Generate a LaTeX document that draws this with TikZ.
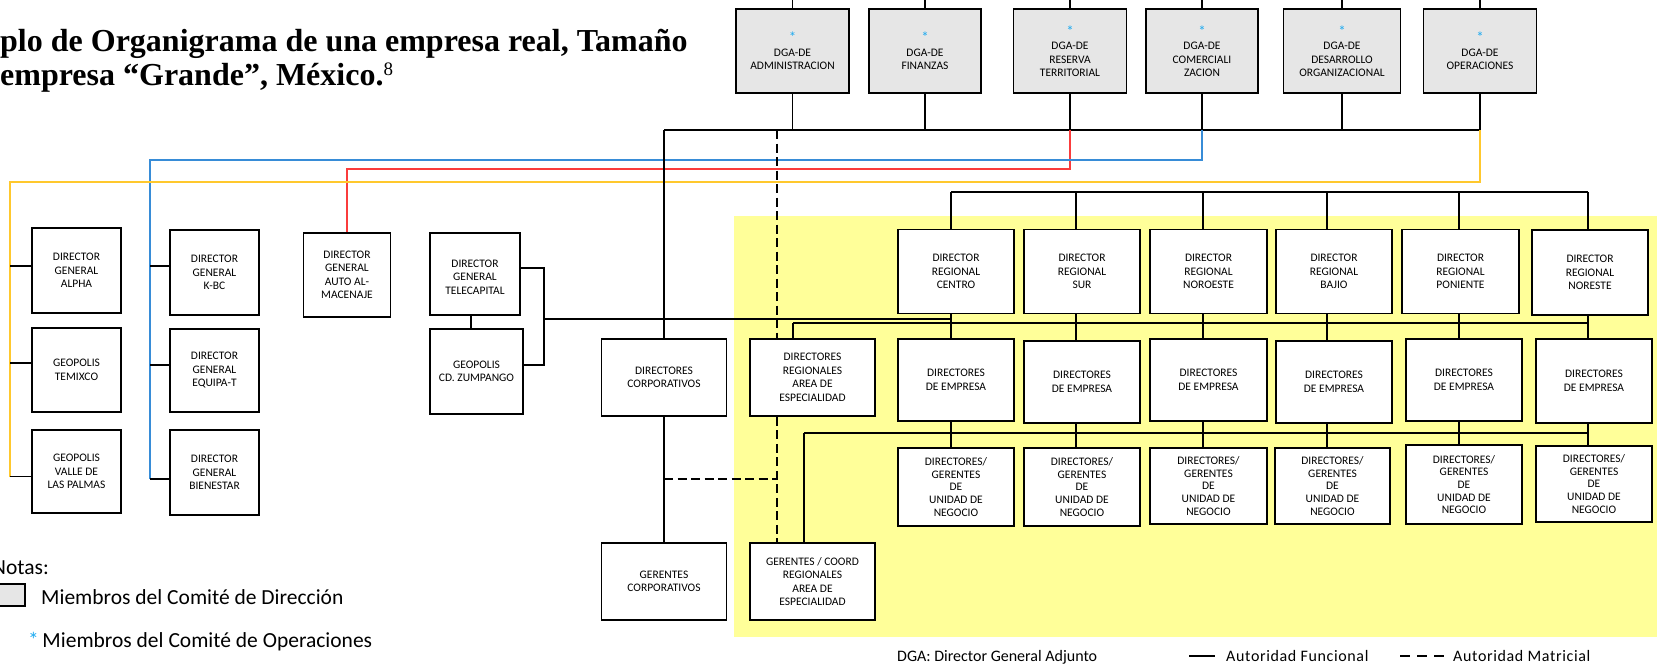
\documentclass[tikz,border=0pt]{standalone}
\usepackage{fontspec}
\setmainfont{Liberation Serif}
\newfontfamily\chartfont{Carlito}
\newfontfamily\spacedfont[LetterSpace=4]{Carlito}
\usetikzlibrary{calc}
\definecolor{zoneyellow}{RGB}{255,255,153}
\definecolor{boardgray}{RGB}{230,230,230}
\definecolor{opsblue}{RGB}{55,140,215}
\definecolor{linkred}{RGB}{250,60,60}
\definecolor{linkgold}{RGB}{255,200,45}
\definecolor{starblue}{RGB}{30,170,240}
\newcommand\opstar{{\color{starblue}\fontsize{15}{13.5}\selectfont *}}
\begin{document}
\begin{tikzpicture}[x=1pt,y=-1pt,
  unit/.style={draw=black, line width=1.6pt, fill=white, inner sep=0pt, align=center,
    font=\chartfont\fontsize{11.5}{13.5}\selectfont},
  board/.style={unit, fill=boardgray},
  tight/.style={font=\chartfont\fontsize{11.5}{12.6}\selectfont},
  link/.style={line width=1.6pt},
  matlink/.style={line width=1.6pt, dash pattern=on 9pt off 4.5pt},
  redlink/.style={line width=2.2pt, draw=linkred},
  bluelink/.style={line width=2.2pt, draw=opsblue},
  goldlink/.style={line width=2.2pt, draw=linkgold},
  keytext/.style={anchor=base west, inner sep=0pt, font=\chartfont\fontsize{21.5}{25}\selectfont},
  foottext/.style={anchor=base west, inner sep=0pt, font=\chartfont\fontsize{16}{19}\selectfont},
  spacedtext/.style={anchor=base west, inner sep=0pt, font=\spacedfont\fontsize{16}{19}\selectfont},
  heading/.style={anchor=base west, inner sep=0pt, font=\fontsize{32}{36}\selectfont\bfseries},
]
\useasboundingbox (0,0) rectangle (1659,670);

% shaded zone of the regional structure
\fill[zoneyellow] (734,216) rectangle (1657,637);

% heading
\node[heading] (title1) at (0,51) {plo de Organigrama de una empresa real, Tamaño};
\node[heading] (title2) at (0,85) {empresa “Grande”, México.\textsuperscript{\mdseries\fontsize{19}{20}\selectfont 8}};

% adjunct general directors
\node[board, minimum width=113pt, minimum height=84pt] (dAdm) at (792.5,51) {\opstar\\DGA-DE\\ADMINISTRACION};
\node[board, minimum width=112pt, minimum height=84pt] (dFin) at (925,51) {\opstar\\DGA-DE\\FINANZAS};
\node[board, minimum width=113pt, minimum height=84pt] (dRes) at (1070,51) {\opstar\\DGA-DE\\RESERVA\\TERRITORIAL};
\node[board, minimum width=112pt, minimum height=84pt] (dCom) at (1202,51) {\opstar\\DGA-DE\\COMERCIALI\\ZACION};
\node[board, minimum width=117pt, minimum height=84pt] (dDes) at (1342,51) {\opstar\\DGA-DE\\DESARROLLO\\ORGANIZACIONAL};
\node[board, minimum width=113pt, minimum height=84pt] (dOpe) at (1480,51) {\opstar\\DGA-DE\\OPERACIONES};

% business units on the left
\node[unit, minimum width=89pt, minimum height=85pt] (alpha) at (76.5,270.5) {DIRECTOR\\GENERAL\\ALPHA};
\node[unit, minimum width=89pt, minimum height=84pt] (temixco) at (76.5,370) {GEOPOLIS\\TEMIXCO};
\node[unit, minimum width=89pt, minimum height=83pt] (valle) at (76.5,471.5) {GEOPOLIS\\VALLE DE\\LAS PALMAS};
\node[unit, minimum width=89pt, minimum height=85pt] (kbc) at (214.5,272.5) {DIRECTOR\\GENERAL\\K-BC};
\node[unit, minimum width=89pt, minimum height=83pt] (equipat) at (214.5,370.5) {DIRECTOR\\GENERAL\\EQUIPA-T};
\node[unit, minimum width=89pt, minimum height=85pt] (bienestar) at (214.5,472.5) {DIRECTOR\\GENERAL\\BIENESTAR};
\node[unit, minimum width=87pt, minimum height=84pt] (auto) at (347,275) {DIRECTOR\\GENERAL\\AUTO AL-\\MACENAJE};
\node[unit, minimum width=90pt, minimum height=82pt] (telecap) at (475,274) {\mbox{}\\DIRECTOR\\GENERAL\\TELECAPITAL};
\node[unit, minimum width=93pt, minimum height=85pt] (zump) at (476.5,371.5) {GEOPOLIS\\CD. ZUMPANGO};

% corporate and specialty areas
\node[unit, minimum width=125pt, minimum height=77pt] (dCorp) at (664,377.5) {DIRECTORES\\CORPORATIVOS};
\node[unit, minimum width=125pt, minimum height=77pt] (gCorp) at (664,581.5) {GERENTES\\CORPORATIVOS};
\node[unit, minimum width=125pt, minimum height=77pt] (dArea) at (812.5,377.5) {DIRECTORES\\REGIONALES\\AREA DE\\ESPECIALIDAD};
\node[unit, minimum width=125pt, minimum height=77pt] (gCoord) at (812.5,581.5) {GERENTES / COORD\\REGIONALES\\AREA DE\\ESPECIALIDAD};

% regional directors
\node[unit, minimum width=116pt, minimum height=84pt] (rA) at (956,271.5) {DIRECTOR\\REGIONAL\\CENTRO};
\node[unit, minimum width=116pt, minimum height=84pt] (rB) at (1082,271.5) {DIRECTOR\\REGIONAL\\SUR};
\node[unit, minimum width=117pt, minimum height=84pt] (rC) at (1208.5,271.5) {DIRECTOR\\REGIONAL\\NOROESTE};
\node[unit, minimum width=116pt, minimum height=84pt] (rD) at (1334,271.5) {DIRECTOR\\REGIONAL\\BAJIO};
\node[unit, minimum width=117pt, minimum height=84pt] (rE) at (1460.5,271.5) {DIRECTOR\\REGIONAL\\PONIENTE};
\node[unit, minimum width=116pt, minimum height=85pt] (rF) at (1590,272.5) {DIRECTOR\\REGIONAL\\NORESTE};

% company directors
\node[unit, minimum width=116pt, minimum height=82pt] (eA) at (956,380) {DIRECTORES\\DE EMPRESA};
\node[unit, minimum width=116pt, minimum height=82pt] (eB) at (1082,382) {DIRECTORES\\DE EMPRESA};
\node[unit, minimum width=117pt, minimum height=82pt] (eC) at (1208.5,380) {DIRECTORES\\DE EMPRESA};
\node[unit, minimum width=116pt, minimum height=82pt] (eD) at (1334,382) {DIRECTORES\\DE EMPRESA};
\node[unit, minimum width=116pt, minimum height=82pt] (eE) at (1464,380) {DIRECTORES\\DE EMPRESA};
\node[unit, minimum width=116pt, minimum height=84pt] (eF) at (1594,381) {DIRECTORES\\DE EMPRESA};

% business unit directors / managers
\node[unit, tight, minimum width=116pt, minimum height=78pt] (uA) at (956,487) {DIRECTORES/\\GERENTES\\DE\\UNIDAD DE\\NEGOCIO};
\node[unit, tight, minimum width=116pt, minimum height=78pt] (uB) at (1082,487) {DIRECTORES/\\GERENTES\\DE\\UNIDAD DE\\NEGOCIO};
\node[unit, tight, minimum width=117pt, minimum height=76pt] (uC) at (1208.5,486) {DIRECTORES/\\GERENTES\\DE\\UNIDAD DE\\NEGOCIO};
\node[unit, tight, minimum width=115pt, minimum height=76pt] (uD) at (1332.5,486) {DIRECTORES/\\GERENTES\\DE\\UNIDAD DE\\NEGOCIO};
\node[unit, tight, minimum width=116pt, minimum height=79pt] (uE) at (1464,484.5) {DIRECTORES/\\GERENTES\\DE\\UNIDAD DE\\NEGOCIO};
\node[unit, tight, minimum width=116pt, minimum height=76pt] (uF) at (1594,484) {DIRECTORES/\\GERENTES\\DE\\UNIDAD DE\\NEGOCIO};

% reference points of the connector grid
\coordinate (topEdge) at (0,0);
\coordinate (busL) at (664,130);
\coordinate (matTop) at (777,130);
\coordinate (matRow) at (0,479);
\coordinate (redRow) at (0,169);
\coordinate (blueCorner) at (150,160);
\coordinate (goldCorner) at (10,182);
\coordinate (regBusL) at (951,192);
\coordinate (regBusR) at (1588,192);
\coordinate (empBusL) at (793,323);
\coordinate (empBusR) at (1588,323);
\coordinate (unitBusL) at (804,433);
\coordinate (unitBusR) at (1588,433);
\coordinate (teleBr) at (544,319);
\coordinate (sAlpha) at ([yshift=4.5pt]alpha.west);
\coordinate (sTemixco) at ([yshift=7pt]temixco.west);
\coordinate (sValle) at ([yshift=-5pt]valle.west);
\coordinate (sKbc) at ([yshift=6.5pt]kbc.west);
\coordinate (sEquipat) at ([yshift=5.5pt]equipat.west);
\coordinate (sBienestar) at ([yshift=-6.5pt]bienestar.west);
\coordinate (sTele) at ([yshift=6pt]telecap.east);
\coordinate (sZump) at ([yshift=6.5pt]zump.east);

% lines from above and into the main bus
\foreach \d in {dAdm,dFin,dRes,dCom,dDes,dOpe}{
  \draw[link] (\d.north) -- (\d.north |- topEdge);
  \draw[link] (\d.south) -- (\d.south |- busL);
}
\draw[link] (busL) -- (busL -| dOpe.south);

% committee links
\draw[redlink] (dRes.south |- busL) -- (dRes.south |- redRow) -| (auto.north);
\draw[bluelink] (dCom.south |- busL) |- (blueCorner) -- (blueCorner |- sBienestar);
\draw[goldlink] (dOpe.south |- busL) |- (goldCorner) -- (goldCorner |- sValle);
\draw[link] (goldCorner |- sAlpha) -- (sAlpha);
\draw[link] (goldCorner |- sTemixco) -- (sTemixco);
\draw[link] (goldCorner |- sValle) -- (sValle);
\draw[link] (blueCorner |- sKbc) -- (sKbc);
\draw[link] (blueCorner |- sEquipat) -- (sEquipat);
\draw[link] (blueCorner |- sBienestar) -- (sBienestar);

% Telecapital group
\draw[link] ([xshift=-4pt]telecap.south) -- ([xshift=-4pt]telecap.south |- zump.north);
\draw[link] (sTele) -| (teleBr);
\draw[link] (sZump) -| (teleBr);
\draw[link] (teleBr) -- (teleBr -| regBusL);

% corporate line
\draw[link] (busL) -- (dCorp.north);
\draw[link] (dCorp.south) -- (gCorp.north);

% matrix authority
\draw[matlink] (matTop) -- (matTop |- dArea.north);
\draw[matlink] (matTop |- dArea.south) -- (matTop |- gCoord.north);
\draw[matlink] (dCorp.south |- matRow) -- (matTop |- matRow);

% regional buses
\draw[link] (regBusL) -- (regBusR);
\draw[link] (empBusL) -- (empBusR);
\draw[link] (unitBusL) -- (unitBusR);
\draw[link] (empBusL) -- (empBusL |- dArea.north);
\draw[link] (unitBusL) -- (unitBusL |- gCoord.north);
\foreach \cx/\r/\e/\u in {951/rA/eA/uA,1076/rB/eB/uB,1203/rC/eC/uC,1327/rD/eD/uD,1459/rE/eE/uE,1588/rF/eF/uF}{
  \coordinate (col) at (\cx,0);
  \draw[link] (col |- regBusL) -- (col |- \r.north);
  \draw[link] (col |- \r.south) -- (col |- \e.north);
  \draw[link] (col |- \e.south) -- (col |- \u.north);
}

% notes
\node[keytext] (notes) at (-8,574.5) {Notas:};
\node[draw, line width=1.6pt, fill=boardgray, minimum width=34pt, minimum height=22pt, inner sep=0pt] (keyBox) at (8,595) {};
\node[keytext] (keyBoard) at (41,604.5) {Miembros del Comité de Dirección};
\node[keytext] (keyOps) at (28,647.5) {{\color{starblue}*}\,Miembros del Comité de Operaciones};

% line key
\node[foottext] (keyDga) at (897,661) {DGA: Director General Adjunto};
\coordinate (solidA) at (1189,656);
\coordinate (solidB) at (1215,656);
\draw[line width=1.4pt] (solidA) -- (solidB);
\node[spacedtext] (keyFunc) at (1226,661) {Autoridad Funcional};
\coordinate (dashA) at (1400,656);
\coordinate (dashB) at (1444,656);
\draw[line width=1.4pt, dash pattern=on 10pt off 7pt] (dashA) -- (dashB);
\node[spacedtext] (keyMat) at (1453,661) {Autoridad Matricial};
\end{tikzpicture}
\end{document}
